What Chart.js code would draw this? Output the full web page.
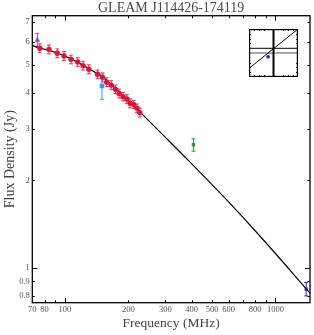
<!DOCTYPE html>
<html><head><meta charset="utf-8">
<script src="https://cdn.jsdelivr.net/npm/chart.js@4.4.1/dist/chart.umd.min.js"></script>
<style>
html,body{margin:0;padding:0;background:#fff;}
#wrap{position:relative;width:314px;height:335px;overflow:hidden;}
#main{position:absolute;left:0;top:0;width:314px;height:335px;}
#inset{position:absolute;left:245px;top:25px;width:57px;height:56px;}
</style>
</head><body>
<div id="wrap"><canvas id="main" width="314" height="335"></canvas><canvas id="inset" width="57" height="56"></canvas></div>
<script>
// ---- data ----
const gleamFreq = [76, 84, 92, 99, 107, 115, 122, 130, 143, 151, 158, 166, 174, 181, 189, 197, 204, 212, 220, 227];
const gleamFlux = [5.69, 5.64, 5.47, 5.35, 5.21, 5.10, 4.96, 4.82, 4.63, 4.52, 4.35, 4.25, 4.11, 3.98, 3.88, 3.81, 3.68, 3.65, 3.54, 3.42];
const gleamErr  = [0.20, 0.20, 0.19, 0.19, 0.18, 0.18, 0.17, 0.17, 0.16, 0.16, 0.15, 0.15, 0.14, 0.14, 0.13, 0.13, 0.13, 0.12, 0.12, 0.12];

const vlssFreq = [74];   const vlssFlux = [6.07]; const vlssErr = [0.33];
const tgssFreq = [150];  const tgssFlux = [4.22]; const tgssErr = [0.42];
const mrcFreq  = [408];  const mrcFlux  = [2.65]; const mrcErr  = [0.13];
const nvssFreq = [1400]; const nvssFlux = [0.847]; const nvssErr = [0.045];

const fitFreq = [70, 76, 92, 107, 130, 151, 174, 197, 227, 282, 391, 584, 865, 1460];
const fitFlux = [5.81, 5.70, 5.48, 5.23, 4.84, 4.53, 4.14, 3.79, 3.44, 2.94, 2.32, 1.72, 1.263, 0.82];

const xTickLabels = [70, 80, 100, 200, 300, 400, 500, 600, 800, 1000];
const xMajorTicks = [100, 1000];
const xMinorTicks = [70, 80, 90, 200, 300, 400, 500, 600, 700, 800, 900];
const yTickLabels = [0.8, 0.9, 1, 2, 3, 4, 5, 6, 7];
const yMajorTicks = [1];
const yMinorTicks = [0.8, 0.9, 2, 3, 4, 5, 6, 7];

// inset (normalised 0..1 coordinates)
const insetDiagX = [0, 1];     const insetDiagY = [0.18, 1];
const insetVertX = [0.5, 0.5]; const insetVertY = [0, 1];
const insetHorAX = [0, 1];     const insetHorAY = [0.5, 0.5];
const insetHorBX = [0, 1];     const insetHorBY = [0.595, 0.595];
const insetPtX = [0.39];       const insetPtY = [0.42];
const insetTicks = [0.1, 0.2, 0.3, 0.7, 0.8, 0.9];

const pts = (xs, ys) => xs.map((v, i) => ({x: v, y: ys[i]}));
const FONT = "'Liberation Serif', 'DejaVu Serif', serif";
Chart.defaults.font.family = FONT;

const errorBars = {
  id: 'errorBars',
  beforeDatasetsDraw(chart) {
    const {ctx, scales: {x, y}} = chart;
    chart.data.datasets.forEach((ds, i) => {
      if (!ds.errors) return;
      ctx.save();
      ctx.strokeStyle = ds.errColor || ds.borderColor;
      ctx.lineWidth = 1;
      ds.data.forEach((p, j) => {
        const e = ds.errors[j];
        const px = x.getPixelForValue(p.x);
        const y1 = y.getPixelForValue(p.y + e), y2 = y.getPixelForValue(p.y - e);
        ctx.beginPath();
        ctx.moveTo(px, y1); ctx.lineTo(px, y2);
        ctx.moveTo(px - 2, y1); ctx.lineTo(px + 2, y1);
        ctx.moveTo(px - 2, y2); ctx.lineTo(px + 2, y2);
        ctx.stroke();
      });
      ctx.restore();
    });
  }
};

const frameTicks = {
  id: 'frameTicks',
  afterDraw(chart) {
    const {ctx, chartArea: a, scales: {x, y}} = chart;
    ctx.save();
    ctx.strokeStyle = '#000';
    ctx.lineWidth = 1;
    const seg = (x1, y1, x2, y2) => { ctx.beginPath(); ctx.moveTo(x1, y1); ctx.lineTo(x2, y2); ctx.stroke(); };
    const xt = (vals, len) => vals.forEach(v => { const p = Math.round(x.getPixelForValue(v)) + 0.5; seg(p, a.bottom, p, a.bottom - len); seg(p, a.top, p, a.top + len); });
    const yt = (vals, len) => vals.forEach(v => { const p = Math.round(y.getPixelForValue(v)) + 0.5; seg(a.left, p, a.left + len, p); seg(a.right, p, a.right - len, p); });
    xt(xMinorTicks, 2.5); xt(xMajorTicks, 5);
    yt(yMinorTicks, 2.5); yt(yMajorTicks, 5);
    ctx.lineWidth = 1.3;
    ctx.strokeRect(a.left, a.top, a.right - a.left, a.bottom - a.top);
    ctx.restore();
  }
};

new Chart(document.getElementById('main'), {
  type: 'scatter',
  data: {
    datasets: [
      {data: pts(gleamFreq, gleamFlux), errors: gleamErr, backgroundColor: '#dc143c', borderColor: '#dc143c', errColor: 'rgba(220,20,60,0.85)', pointStyle: 'circle', pointRadius: 2.7, pointBorderWidth: 0},
      {data: pts(vlssFreq, vlssFlux), errors: vlssErr, backgroundColor: '#9a3ee0', borderColor: '#9a3ee0', pointStyle: 'triangle', pointRadius: 3.2, pointBorderWidth: 0},
      {data: pts(tgssFreq, tgssFlux), errors: tgssErr, backgroundColor: '#3a98f0', borderColor: '#3a98f0', pointStyle: 'rect', pointRadius: 3.2, pointBorderWidth: 0},
      {data: pts(mrcFreq, mrcFlux), errors: mrcErr, backgroundColor: '#2a9a2a', borderColor: '#2a9a2a', pointStyle: 'rect', pointRadius: 2.4, pointBorderWidth: 0},
      {data: pts(nvssFreq, nvssFlux), errors: nvssErr, backgroundColor: '#15158a', borderColor: '#2a2aa0', pointStyle: 'rect', pointRadius: 2.2, pointBorderWidth: 0},
      {data: pts(fitFreq, fitFlux), showLine: true, borderColor: '#000', borderWidth: 1.2, pointRadius: 0, cubicInterpolationMode: 'monotone', order: 10}
    ]
  },
  options: {
    responsive: false,
    animation: false,
    devicePixelRatio: 1,
    layout: {padding: {left: 0, right: 3.3, top: 0, bottom: 0}},
    plugins: {
      legend: {display: false},
      tooltip: {enabled: false},
      title: {display: true, fullSize: false, text: 'GLEAM J114426-174119', color: '#4a4a4a',
        font: {size: 14, family: FONT, weight: 'normal', lineHeight: 1.05}, padding: {top: 1, bottom: 0}}
    },
    scales: {
      x: {
        type: 'logarithmic', min: 70, max: 1460,
        grid: {display: false, drawTicks: false}, border: {display: false},
        afterBuildTicks: s => { s.ticks = xTickLabels.map(v => ({value: v})); },
        afterFit: s => { s.height = 32.3; },
        ticks: {autoSkip: false, maxRotation: 0, padding: 2, color: '#555', font: {size: 8.5, family: FONT}, callback: v => String(v)},
        title: {display: true, text: 'Frequency (MHz)', color: '#444', font: {size: 13.5, family: FONT}, padding: {top: 0, bottom: 3.3}}
      },
      y: {
        type: 'logarithmic', min: 0.76, max: 7.36,
        grid: {display: false, drawTicks: false}, border: {display: false},
        afterBuildTicks: s => { s.ticks = yTickLabels.map(v => ({value: v})); },
        afterFit: s => { s.width = 32.3; },
        ticks: {autoSkip: false, padding: 2.5, color: '#555', font: {size: 8.5, family: FONT}, callback: v => String(v)},
        title: {display: true, text: 'Flux Density (Jy)', color: '#444', font: {size: 14, family: FONT}, padding: {top: 2.1, bottom: 0}}
      }
    }
  },
  plugins: [errorBars, frameTicks]
});

const insetFrame = {
  id: 'insetFrame',
  beforeDraw(chart) {
    const {ctx, width, height} = chart;
    ctx.save(); ctx.fillStyle = '#fff'; ctx.fillRect(0, 0, width, height); ctx.restore();
  },
  afterDraw(chart) {
    const {ctx, chartArea: a, scales: {x, y}} = chart;
    ctx.save();
    ctx.strokeStyle = '#222'; ctx.lineWidth = 1;
    insetTicks.forEach(v => {
      const px = Math.round(x.getPixelForValue(v)) + 0.5, py = Math.round(y.getPixelForValue(v)) + 0.5;
      ctx.beginPath();
      ctx.moveTo(px, a.top); ctx.lineTo(px, a.top + 2);
      ctx.moveTo(px, a.bottom); ctx.lineTo(px, a.bottom - 2);
      ctx.moveTo(a.left, py); ctx.lineTo(a.left + 2, py);
      ctx.moveTo(a.right, py); ctx.lineTo(a.right - 2, py);
      ctx.stroke();
    });
    ctx.strokeStyle = '#000'; ctx.lineWidth = 1.2;
    ctx.strokeRect(a.left + 0.6, a.top + 0.6, a.right - a.left - 1.2, a.bottom - a.top - 1.2);
    ctx.restore();
  }
};

new Chart(document.getElementById('inset'), {
  type: 'scatter',
  data: {
    datasets: [
      {data: pts(insetPtX, insetPtY), backgroundColor: '#1515ff', pointRadius: 1.8, pointBorderWidth: 0},
      {data: pts(insetDiagX, insetDiagY), showLine: true, borderColor: '#000', borderWidth: 1, pointRadius: 0},
      {data: pts(insetVertX, insetVertY), showLine: true, borderColor: '#000', borderWidth: 2, pointRadius: 0},
      {data: pts(insetHorAX, insetHorAY), showLine: true, borderColor: '#555', borderWidth: 1, pointRadius: 0},
      {data: pts(insetHorBX, insetHorBY), showLine: true, borderColor: '#333', borderWidth: 1.2, pointRadius: 0}
    ]
  },
  options: {
    responsive: false, animation: false, devicePixelRatio: 1,
    layout: {padding: 0},
    plugins: {legend: {display: false}, tooltip: {enabled: false}, title: {display: false}},
    scales: {
      x: {type: 'linear', min: 0, max: 1, display: false},
      y: {type: 'linear', min: 0, max: 1, display: false}
    }
  },
  plugins: [insetFrame]
});
</script>
</body></html>
